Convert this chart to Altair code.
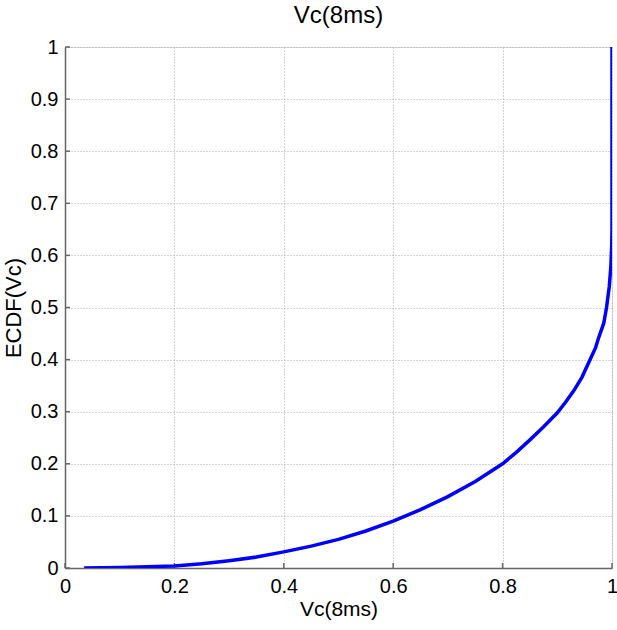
import altair as alt
import pandas as pd

# ECDF curve
vc = [0.035, 0.10, 0.20, 0.25, 0.30, 0.35, 0.40, 0.45, 0.50, 0.55, 0.60, 0.65,
      0.70, 0.75, 0.80, 0.825, 0.85, 0.875, 0.90, 0.915, 0.93, 0.945, 0.96,
      0.97, 0.975, 0.98, 0.985, 0.99, 0.995, 0.998, 0.9995, 1.0, 1.0]
ecdf = [0.0, 0.001, 0.004, 0.008, 0.014, 0.021, 0.031, 0.042, 0.055, 0.071, 0.090, 0.112,
        0.137, 0.166, 0.200, 0.222, 0.246, 0.271, 0.298, 0.318, 0.340, 0.366, 0.400,
        0.423, 0.440, 0.455, 0.470, 0.500, 0.540, 0.580, 0.620, 0.650, 1.0]
x_ticks = [0, 0.2, 0.4, 0.6, 0.8, 1]
y_ticks = [0, 0.1, 0.2, 0.3, 0.4, 0.5, 0.6, 0.7, 0.8, 0.9, 1]

W, H = 547, 521
FONT = "Liberation Sans"

df = pd.DataFrame({"vc": vc, "ecdf": ecdf, "order": list(range(len(vc)))})
xt = pd.DataFrame({"t": x_ticks})
yt = pd.DataFrame({"t": y_ticks})

xscale = alt.Scale(domain=[0, 1], nice=False, zero=False)
yscale = alt.Scale(domain=[0, 1], nice=False, zero=False)

common = dict(grid=True, gridColor="#a8a8a8", gridDash=[1, 2], gridWidth=1,
              domainColor="#666666", domainWidth=1.5, ticks=False,
              labelFontSize=20, labelColor="#000000", labelFont=FONT,
              labelFlush=False, labelExpr="format(datum.value, '~g')",
              titleFont=FONT, titleFontWeight="normal", titleColor="#000000")

line = alt.Chart(df).mark_line(color="#0000ff", strokeWidth=3.5, clip=True).encode(
    x=alt.X("vc:Q", scale=xscale,
            axis=alt.Axis(values=x_ticks, title="Vc(8ms)", labelPadding=8,
                          titleFontSize=21, titlePadding=2, **common)),
    y=alt.Y("ecdf:Q", scale=yscale,
            axis=alt.Axis(values=y_ticks, title="ECDF(Vc)", labelPadding=7,
                          titleFontSize=22, titlePadding=5, **common)),
    order="order:Q",
)

xticks = alt.Chart(xt).mark_rule(color="#666666", strokeWidth=1.5).encode(
    x=alt.X("t:Q", scale=xscale), y=alt.value(H), y2=alt.value(H - 5))
yticks = alt.Chart(yt).mark_rule(color="#666666", strokeWidth=1.5).encode(
    y=alt.Y("t:Q", scale=yscale), x=alt.value(0), x2=alt.value(5))

chart = alt.layer(xticks, yticks, line).properties(
    width=W, height=H,
    title=alt.TitleParams("Vc(8ms)", font=FONT, fontSize=24, fontWeight="normal",
                          color="#000000", offset=9),
    autosize=alt.AutoSizeParams(type="none"),
    padding={"left": 65, "top": 47, "right": 5, "bottom": 62},
).configure_view(strokeWidth=0).configure(background="white")

chart.save("out.html", embed_options={"renderer": "svg", "actions": False})
